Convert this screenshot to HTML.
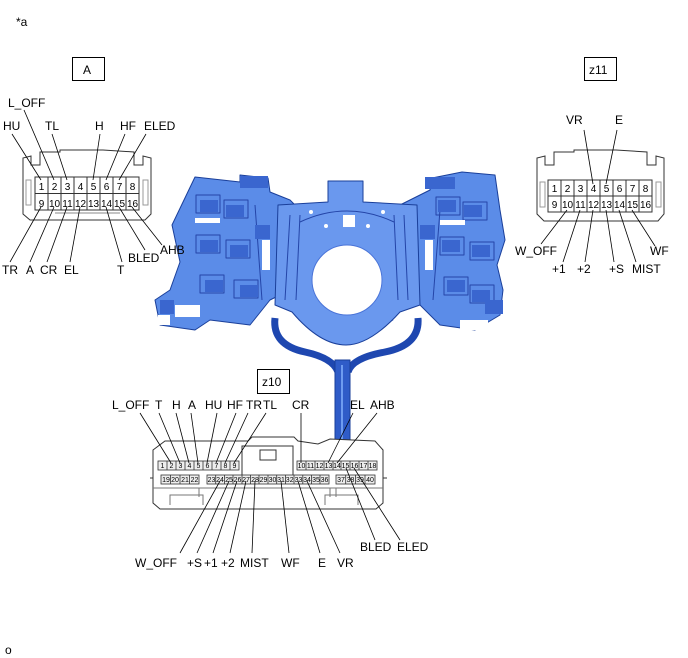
<!DOCTYPE html>
<html><head><meta charset="utf-8"><style>
html,body{margin:0;padding:0;background:#fff;}
svg{display:block;}
text{font-family:"Liberation Sans",sans-serif;font-size:12px;fill:#000;}
.n{font-size:10px;text-anchor:middle;}
.s{font-size:7px;text-anchor:middle;}
</style></head><body>
<svg width="688" height="658" viewBox="0 0 688 658" xmlns="http://www.w3.org/2000/svg">
<text x="16" y="26">*a</text>
<text x="5" y="654">o</text>

<rect x="72.5" y="57.5" width="32" height="23" fill="none" stroke="#000"/>
<text x="83" y="74">A</text>
<rect x="584.5" y="57.5" width="32" height="23" fill="none" stroke="#000"/>
<text x="589" y="74">z11</text>
<rect x="257.5" y="369.5" width="32" height="24" fill="none" stroke="#000"/>
<text x="262" y="386">z10</text>

<!-- Connector A -->
<g fill="none" stroke="#333" stroke-width="1">
<path d="M23 158 L23 214 L30 220 L145 220 L151 214 L151 158 L143 156 L143 165 L134 165 L134 152 L103 150 L60 150 L60 152 L40 152 L40 165 L31 165 L31 156 Z" fill="#fff"/>
<rect x="35" y="177" width="104" height="33" fill="#fff"/>
<line x1="35" y1="193.5" x2="139" y2="193.5"/>
<path d="M48 177V210M61 177V210M74 177V210M87 177V210M100 177V210M113 177V210M126 177V210"/>
<rect x="26" y="180" width="5" height="25" stroke="#999"/>
<rect x="143" y="180" width="5" height="25" stroke="#999"/>
<path d="M55 213 H120" stroke="#888"/>
</g>
<text class="n" x="41.5" y="190">1</text><text class="n" x="54.5" y="190">2</text><text class="n" x="67.5" y="190">3</text><text class="n" x="80.5" y="190">4</text><text class="n" x="93.5" y="190">5</text><text class="n" x="106.5" y="190">6</text><text class="n" x="119.5" y="190">7</text><text class="n" x="132.5" y="190">8</text>
<text class="n" x="41.5" y="207">9</text><text class="n" x="54.5" y="207">10</text><text class="n" x="67.5" y="207">11</text><text class="n" x="80.5" y="207">12</text><text class="n" x="93.5" y="207">13</text><text class="n" x="106.5" y="207">14</text><text class="n" x="119.5" y="207">15</text><text class="n" x="132.5" y="207">16</text>
<g stroke="#000" stroke-width="0.8">
<line x1="12" y1="134" x2="41" y2="180"/><line x1="24" y1="110" x2="54" y2="180"/><line x1="52" y1="134" x2="67" y2="180"/>
<line x1="100" y1="134" x2="93" y2="180"/><line x1="125" y1="134" x2="106" y2="180"/><line x1="146" y1="134" x2="119" y2="180"/>
<line x1="10" y1="262" x2="41" y2="207"/><line x1="30" y1="262" x2="54" y2="207"/><line x1="47" y1="262" x2="67" y2="207"/><line x1="70" y1="262" x2="80" y2="207"/>
<line x1="122" y1="262" x2="106" y2="207"/><line x1="145" y1="250" x2="119" y2="207"/><line x1="162" y1="245" x2="132" y2="207"/>
</g>
<text x="3" y="130">HU</text><text x="8" y="107">L_OFF</text><text x="45" y="130">TL</text><text x="95" y="130">H</text><text x="120" y="130">HF</text><text x="144" y="130">ELED</text>
<text x="2" y="274">TR</text><text x="26" y="274">A</text><text x="40" y="274">CR</text><text x="64" y="274">EL</text><text x="117" y="274">T</text><text x="128" y="262">BLED</text>

<!-- Connector z11 -->
<g fill="none" stroke="#333" stroke-width="1">
<path d="M537 158 L537 214 L544 221 L658 221 L664 214 L664 158 L656 156 L656 165 L647 165 L647 152 L616 150 L574 150 L574 152 L554 152 L554 165 L545 165 L545 156 Z" fill="#fff"/>
<rect x="548" y="180" width="104" height="32" fill="#fff"/>
<line x1="548" y1="196" x2="652" y2="196"/>
<path d="M561 180V212M574 180V212M587 180V212M600 180V212M613 180V212M626 180V212M639 180V212"/>
<rect x="540" y="182" width="5" height="25" stroke="#999"/>
<rect x="656" y="182" width="5" height="25" stroke="#999"/>
</g>
<text class="n" x="554.5" y="192">1</text><text class="n" x="567.5" y="192">2</text><text class="n" x="580.5" y="192">3</text><text class="n" x="593.5" y="192">4</text><text class="n" x="606.5" y="192">5</text><text class="n" x="619.5" y="192">6</text><text class="n" x="632.5" y="192">7</text><text class="n" x="645.5" y="192">8</text>
<text class="n" x="554.5" y="208">9</text><text class="n" x="567.5" y="208">10</text><text class="n" x="580.5" y="208">11</text><text class="n" x="593.5" y="208">12</text><text class="n" x="606.5" y="208">13</text><text class="n" x="619.5" y="208">14</text><text class="n" x="632.5" y="208">15</text><text class="n" x="645.5" y="208">16</text>
<g stroke="#000" stroke-width="0.8">
<line x1="584" y1="130" x2="593" y2="184"/><line x1="617" y1="130" x2="606" y2="184"/>
<line x1="541" y1="244" x2="567" y2="210"/><line x1="563" y1="262" x2="580" y2="210"/><line x1="585" y1="262" x2="593" y2="210"/>
<line x1="614" y1="262" x2="606" y2="210"/><line x1="636" y1="262" x2="619" y2="210"/><line x1="655" y1="246" x2="632" y2="210"/>
</g>
<text x="566" y="124">VR</text><text x="615" y="124">E</text>
<text x="515" y="255">W_OFF</text><text x="552" y="273">+1</text><text x="577" y="273">+2</text><text x="609" y="273">+S</text><text x="632" y="273">MIST</text><text x="650" y="255">WF</text>

<!-- Blue assembly -->
<g stroke="#1a3f9a" stroke-width="1" stroke-linejoin="round">
<path d="M275 318 Q272 345 305 352 Q333 358 338 372" fill="none" stroke="#1e47b0" stroke-width="7"/>
<path d="M418 318 Q420 345 385 352 Q352 358 348 372" fill="none" stroke="#1e47b0" stroke-width="7"/>
<path d="M300 318 Q345 350 392 318" fill="none" stroke="#2a55c0" stroke-width="5"/>
<path d="M335 360 L335 440 L350 440 L350 360 Z" fill="#2f5cc8"/>
<line x1="342" y1="365" x2="342" y2="440" stroke="#6e9cf0" stroke-width="2"/>
<path d="M195 177 L240 182 L240 175 L268 178 L270 192 L290 200 L300 210 L280 235 L280 295 L270 300 L250 325 L210 320 L195 330 L160 325 L155 300 L170 290 L180 262 L172 225 Z" fill="#5b8ce8"/>
<path d="M400 205 L430 190 L432 178 L462 172 L495 175 L500 210 L505 240 L497 265 L503 290 L500 315 L475 330 L440 325 L420 305 L405 295 L400 250 Z" fill="#5b8ce8"/>
<path d="M278 205 L328 202 L328 181 L363 181 L363 202 L417 205 L420 305 L400 312 Q370 345 346 345 Q320 345 292 312 L275 305 Z" fill="#6a98ee"/>
<circle cx="347" cy="280" r="35" fill="#fff" stroke="#4a74d8"/>
<g fill="none" stroke="#2445a8" stroke-width="1">
<rect x="196" y="195" width="24" height="18"/><rect x="224" y="200" width="24" height="18"/><rect x="196" y="235" width="24" height="18"/><rect x="226" y="240" width="24" height="18"/><rect x="200" y="275" width="24" height="18"/><rect x="234" y="280" width="24" height="18"/>
<rect x="436" y="197" width="24" height="18"/><rect x="463" y="202" width="24" height="18"/><rect x="440" y="237" width="24" height="18"/><rect x="470" y="242" width="24" height="18"/><rect x="444" y="277" width="24" height="18"/><rect x="470" y="285" width="24" height="18"/>
<path d="M290 215 L285 300 M300 215 L296 300 M404 215 L408 300 M394 215 L398 300"/>
<path d="M300 222 Q347 200 394 222"/>
<path d="M255 205 L262 300 M440 210 L433 300"/>
</g>
<g fill="#3a66cf" stroke="none">
<rect x="200" y="200" width="18" height="12"/><rect x="226" y="205" width="18" height="12"/><rect x="200" y="240" width="18" height="12"/><rect x="230" y="245" width="18" height="12"/><rect x="205" y="280" width="18" height="12"/><rect x="240" y="285" width="18" height="12"/><rect x="255" y="225" width="15" height="14"/>
<rect x="438" y="200" width="18" height="12"/><rect x="464" y="205" width="18" height="12"/><rect x="442" y="240" width="18" height="12"/><rect x="472" y="245" width="18" height="12"/><rect x="447" y="280" width="18" height="12"/><rect x="472" y="290" width="18" height="12"/><rect x="420" y="225" width="15" height="14"/>
<rect x="240" y="176" width="28" height="12"/><rect x="425" y="177" width="30" height="12"/><rect x="485" y="300" width="18" height="14"/><rect x="160" y="300" width="14" height="14"/>
</g>
<g fill="#fff" stroke="none">
<rect x="195" y="218" width="25" height="5"/><rect x="440" y="220" width="25" height="5"/><rect x="175" y="305" width="25" height="12"/><rect x="460" y="320" width="28" height="10"/><rect x="158" y="315" width="12" height="10"/><rect x="343" y="215" width="12" height="12"/>
<rect x="262" y="240" width="8" height="30"/><rect x="425" y="240" width="8" height="30"/>
<circle cx="311" cy="212" r="2"/><circle cx="383" cy="212" r="2"/><circle cx="326" cy="226" r="2"/><circle cx="368" cy="226" r="2"/>
</g>
</g>
<text x="160" y="254">AHB</text>

<!-- Connector z10 -->
<g fill="none" stroke="#333" stroke-width="1">
<path d="M153 450 L165 441 L248 441 L252 437 L294 437 L298 441 L318 444 L330 439 L375 441 L383 450 L383 503 L376 509 L160 509 L153 503 Z" fill="#fff"/>
<path d="M150 478 H153 M383 478 H387" />
<rect x="242" y="446" width="51" height="30"/>
<rect x="260" y="450" width="16" height="10"/>
<path d="M170 505 V495 H203 V505 M325 505 V495 H358 V505" stroke="#777"/>
<path d="M153 488 H383" stroke="#777"/>
<path d="M199 488 V497 M336 488 V497 M330 488 V497" stroke="#777"/>
</g>
<g fill="#eee" stroke="#333" stroke-width="0.8">
<rect x="158" y="461" width="81" height="9"/><rect x="297" y="461" width="80" height="9"/>
<rect x="161" y="475" width="38" height="9"/><rect x="207" y="475" width="122" height="9"/><rect x="336" y="475" width="39" height="9"/>
<path d="M167 461v9M176 461v9M185 461v9M194 461v9M203 461v9M212 461v9M221 461v9M230 461v9"/>
<path d="M306 461v9M315 461v9M324 461v9M333 461v9M341 461v9M350 461v9M359 461v9M368 461v9"/>
<path d="M170.5 475v9M180 475v9M189.5 475v9"/>
<path d="M215.7 475v9M224.4 475v9M233 475v9M242 475v9M250.5 475v9M259 475v9M268 475v9M276.7 475v9M285.4 475v9M294 475v9M302.8 475v9M311.5 475v9M320 475v9"/>
<path d="M345.7 475v9M355.5 475v9M365 475v9"/>
</g>
<g>
<text class="s" x="162.5" y="468">1</text><text class="s" x="171.5" y="468">2</text><text class="s" x="180.5" y="468">3</text><text class="s" x="189.5" y="468">4</text><text class="s" x="198.5" y="468">5</text><text class="s" x="207.5" y="468">6</text><text class="s" x="216.5" y="468">7</text><text class="s" x="225.5" y="468">8</text><text class="s" x="234.5" y="468">9</text>
<text class="s" x="301.5" y="468">10</text><text class="s" x="310.5" y="468">11</text><text class="s" x="319.5" y="468">12</text><text class="s" x="328.5" y="468">13</text><text class="s" x="337" y="468">14</text><text class="s" x="345.5" y="468">15</text><text class="s" x="354.5" y="468">16</text><text class="s" x="363.5" y="468">17</text><text class="s" x="372.5" y="468">18</text>
<text class="s" x="166" y="482">19</text><text class="s" x="175" y="482">20</text><text class="s" x="185" y="482">21</text><text class="s" x="194.5" y="482">22</text>
<text class="s" x="211.5" y="482">23</text><text class="s" x="220" y="482">24</text><text class="s" x="229" y="482">25</text><text class="s" x="237.5" y="482">26</text><text class="s" x="246" y="482">27</text><text class="s" x="255" y="482">28</text><text class="s" x="263.5" y="482">29</text><text class="s" x="272.5" y="482">30</text><text class="s" x="281" y="482">31</text><text class="s" x="289.7" y="482">32</text><text class="s" x="298.5" y="482">33</text><text class="s" x="307" y="482">34</text><text class="s" x="316" y="482">35</text><text class="s" x="324.5" y="482">36</text>
<text class="s" x="341" y="482">37</text><text class="s" x="350.5" y="482">38</text><text class="s" x="360" y="482">39</text><text class="s" x="370" y="482">40</text>
</g>
<g stroke="#000" stroke-width="0.8">
<line x1="140" y1="413" x2="171" y2="463"/><line x1="159" y1="413" x2="180" y2="463"/><line x1="176" y1="413" x2="189" y2="463"/><line x1="191" y1="413" x2="198" y2="463"/>
<line x1="217" y1="413" x2="207" y2="463"/><line x1="236" y1="413" x2="216" y2="463"/><line x1="248" y1="413" x2="225" y2="463"/><line x1="266" y1="413" x2="234" y2="463"/>
<line x1="301" y1="413" x2="301" y2="463"/><line x1="353" y1="413" x2="328" y2="463"/><line x1="377" y1="413" x2="337" y2="463"/>
<line x1="180" y1="553" x2="220" y2="481"/><line x1="197" y1="553" x2="229" y2="481"/><line x1="213" y1="553" x2="237" y2="481"/><line x1="230" y1="553" x2="246" y2="481"/><line x1="252" y1="553" x2="255" y2="481"/>
<line x1="289" y1="553" x2="281" y2="481"/><line x1="320" y1="553" x2="298" y2="481"/><line x1="340" y1="553" x2="307" y2="481"/>
<line x1="375" y1="540" x2="346" y2="468"/><line x1="400" y1="540" x2="354" y2="468"/>
</g>
<text x="112" y="409">L_OFF</text><text x="155" y="409">T</text><text x="172" y="409">H</text><text x="188" y="409">A</text><text x="205" y="409">HU</text><text x="227" y="409">HF</text><text x="246" y="409">TR</text><text x="263" y="409">TL</text>
<text x="292" y="409">CR</text><text x="350" y="409">EL</text><text x="370" y="409">AHB</text>
<text x="135" y="567">W_OFF</text><text x="187" y="567">+S</text><text x="204" y="567">+1</text><text x="221" y="567">+2</text><text x="240" y="567">MIST</text><text x="281" y="567">WF</text><text x="318" y="567">E</text><text x="337" y="567">VR</text>
<text x="360" y="551">BLED</text><text x="397" y="551">ELED</text>
</svg>
</body></html>
